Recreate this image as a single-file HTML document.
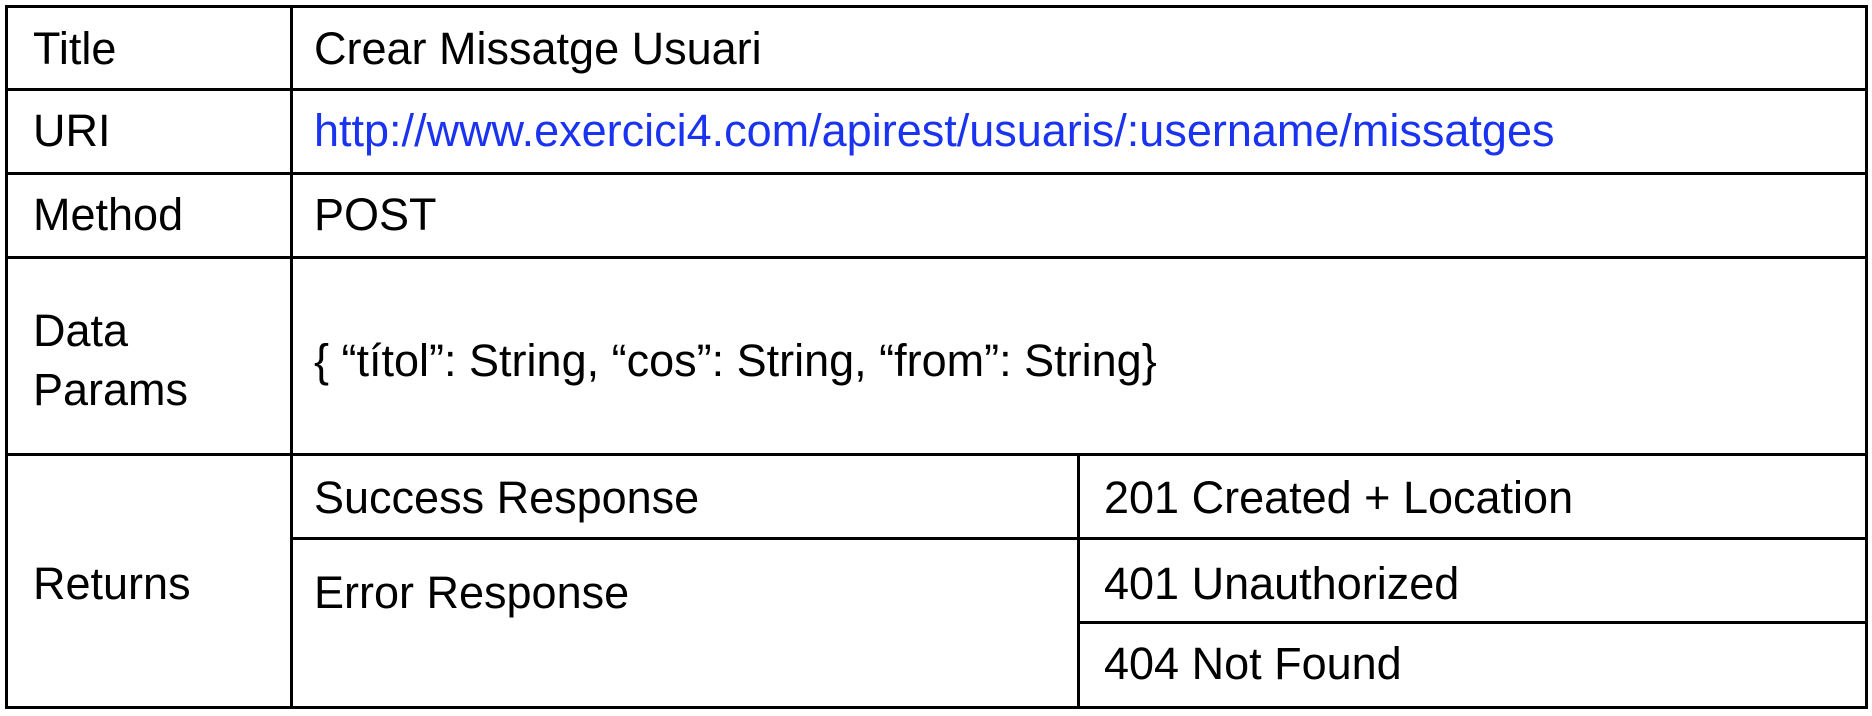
<!DOCTYPE html>
<html><head><meta charset="utf-8"><style>
html,body{margin:0;padding:0;background:#fff;width:1872px;height:716px;overflow:hidden;position:relative}
.l{position:absolute;background:#000}
.t{position:absolute;font-family:"Liberation Sans",sans-serif;font-size:45px;line-height:50px;height:50px;color:#000;white-space:nowrap}
</style></head><body>
<div class="l" style="left:5px;top:5px;width:1863px;height:3px"></div>
<div class="l" style="left:5px;top:706px;width:1863px;height:3px"></div>
<div class="l" style="left:5px;top:5px;width:3px;height:704px"></div>
<div class="l" style="left:1865px;top:5px;width:3px;height:704px"></div>
<div class="l" style="left:5px;top:88px;width:1863px;height:3px"></div>
<div class="l" style="left:5px;top:172px;width:1863px;height:3px"></div>
<div class="l" style="left:5px;top:256px;width:1863px;height:3px"></div>
<div class="l" style="left:5px;top:453px;width:1863px;height:3px"></div>
<div class="l" style="left:290px;top:537px;width:1578px;height:3px"></div>
<div class="l" style="left:1077px;top:621px;width:791px;height:3px"></div>
<div class="l" style="left:290px;top:5px;width:3px;height:704px"></div>
<div class="l" style="left:1077px;top:453px;width:3px;height:256px"></div>
<div class="t" style="left:33px;top:24px">Title</div>
<div class="t" style="left:314px;top:24px">Crear Missatge Usuari</div>
<div class="t" style="left:33px;top:106px">URI</div>
<div class="t" style="left:314px;top:106px;color:#1a33f0">http://www.exercici4.com/apirest/usuaris/:username/missatges</div>
<div class="t" style="left:33px;top:190px">Method</div>
<div class="t" style="left:314px;top:190px">POST</div>
<div class="t" style="left:33px;top:306px">Data</div>
<div class="t" style="left:33px;top:365px">Params</div>
<div class="t" style="left:314px;top:336px">{ “títol”: String, “cos”: String, “from”: String}</div>
<div class="t" style="left:33px;top:559px">Returns</div>
<div class="t" style="left:314px;top:473px">Success Response</div>
<div class="t" style="left:314px;top:568px">Error Response</div>
<div class="t" style="left:1104px;top:473px">201 Created + Location</div>
<div class="t" style="left:1104px;top:559px">401 Unauthorized</div>
<div class="t" style="left:1104px;top:639px">404 Not Found</div>
</body></html>
